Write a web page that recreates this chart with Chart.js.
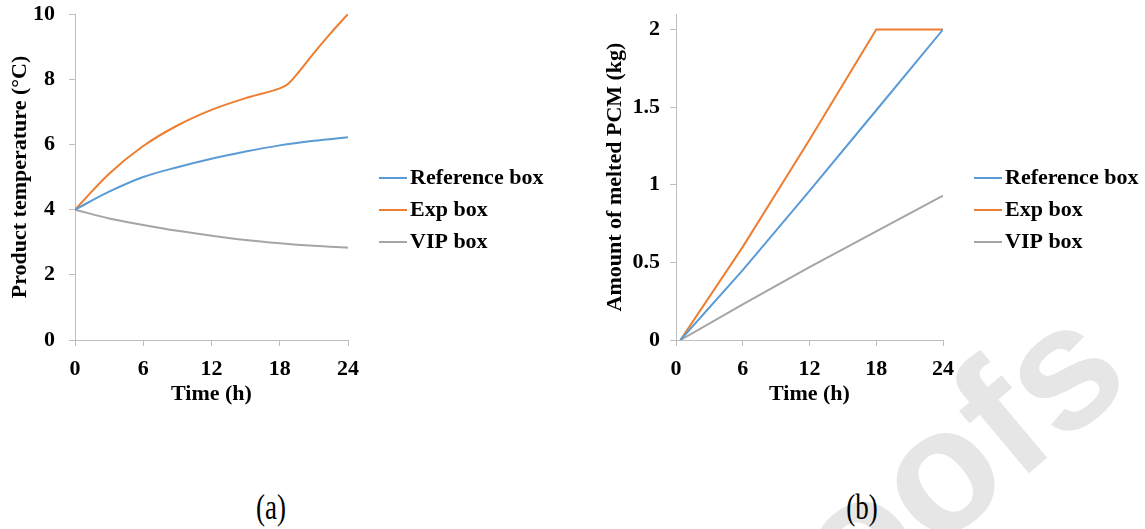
<!DOCTYPE html>
<html>
<head>
<meta charset="utf-8">
<script src="https://cdn.jsdelivr.net/npm/chart.js@4.4.1/dist/chart.umd.min.js"></script>
<style>
    html, body { margin: 0; padding: 0; background: #fff; }
    body { width: 1145px; height: 529px; position: relative; overflow: hidden; }
    .panel { position: absolute; top: 0; }
    .tag { position: absolute; font-family: 'Liberation Serif', serif; font-size: 36px; color: #000; transform: translate(-50%, -50%) scaleX(0.75); }
    .mark { position: absolute; left: 711px; top: 592px; font-family: 'Liberation Sans', sans-serif; font-weight: bold; font-size: 175px; line-height: 1; color: #e6e6e6; white-space: nowrap; transform-origin: 0 148px; transform: rotate(-40deg); }
</style>
</head>
<body>
<div class="mark">Proofs</div>
<div class="panel" style="left:0"><canvas id="chartA" width="560" height="420"></canvas></div>
<div class="panel" style="left:560px"><canvas id="chartB" width="585" height="420"></canvas></div>
<div class="tag" style="left:271px; top:507px">(a)</div>
<div class="tag" style="left:862px; top:507px">(b)</div>
<script>
/* ---------- data ---------- */
const seriesNames = ['Reference box', 'Exp box', 'VIP box'];

// (a) product temperature, °C
const timeA = [0, 3, 6, 9, 12, 15, 18, 21, 24];
const refTempA = [4, 4.55, 5.0, 5.3, 5.56, 5.78, 5.97, 6.11, 6.22];
const vipTempA = [4, 3.73, 3.53, 3.35, 3.2, 3.07, 2.97, 2.89, 2.83];
const timeExpA = [0, 3, 6, 9, 12, 15, 18, 18.6, 19.5, 21, 22.5, 24];
const expTempA = [4, 5.1, 5.95, 6.58, 7.06, 7.42, 7.72, 7.82, 8.15, 8.8, 9.42, 10.0];

// (b) amount of melted PCM, kg
const timeB = [0.4, 6, 12, 18, 24];
const refPcmB = [0, 0.45, 0.96, 1.48, 2.0];
const expPcmB = [0, 0.6, 1.29, 2.0, 2.0];
const vipPcmB = [0, 0.23, 0.47, 0.70, 0.93];

const timeTicks = [0, 6, 12, 18, 24];

/* ---------- styling ---------- */
const COLORS = ['#5b9bd5', '#ed7d31', '#a5a5a5'];
const AXIS = '#bfbfbf';
const boldFont = { family: "'Liberation Serif', 'Times New Roman', serif", weight: 'bold', size: 22 };

const pts = (xs, ys) => xs.map((x, i) => ({ x, y: ys[i] }));

// legend drawn to the right of the plot area
const sideLegend = {
    id: 'sideLegend',
    afterDraw(chart, args, opts) {
        const { ctx, chartArea } = chart;
        ctx.save();
        ctx.font = `bold ${opts.size}px 'Liberation Serif', serif`;
        ctx.textBaseline = 'middle';
        ctx.textAlign = 'left';
        chart.data.datasets.forEach((ds, i) => {
            const y = opts.top + i * opts.rowGap;
            const x = chartArea.right + opts.offset;
            ctx.strokeStyle = ds.borderColor;
            ctx.lineWidth = 2;
            ctx.beginPath(); ctx.moveTo(x, y); ctx.lineTo(x + opts.lineLen, y); ctx.stroke();
            ctx.fillStyle = '#000';
            ctx.fillText(ds.label, x + opts.lineLen + 3, y);
        });
        ctx.restore();
    }
};

function makeDataset(i, data, smooth) {
    return {
        label: seriesNames[i], data,
        borderColor: COLORS[i], backgroundColor: COLORS[i],
        borderWidth: 2, pointRadius: 0,
        cubicInterpolationMode: smooth ? 'monotone' : 'default',
        tension: 0
    };
}

function makeChart(canvasId, datasets, cfg) {
    return new Chart(document.getElementById(canvasId), {
        type: 'line',
        data: { datasets },
        options: {
            responsive: false, animation: false, devicePixelRatio: 1,
            layout: { padding: { left: 0, top: 14, right: cfg.padRight, bottom: 0 } },
            scales: {
                x: {
                    type: 'linear', min: 0, max: 24,
                    afterBuildTicks: s => { s.ticks = timeTicks.map(v => ({ value: v })); },
                    afterFit: s => { s.height = 80; s.paddingLeft = 0; s.paddingRight = 0; },
                    grid: { drawOnChartArea: false, drawTicks: true, tickLength: 6, color: AXIS },
                    border: { color: AXIS, width: 1 },
                    ticks: { font: boldFont, color: '#000', padding: 10, maxRotation: 0 },
                    title: { display: true, text: 'Time (h)', font: boldFont, color: '#000', padding: { top: 0, bottom: 12 } }
                },
                y: {
                    min: 0, max: cfg.yMax,
                    afterBuildTicks: s => { s.ticks = cfg.yTicks.map(v => ({ value: v })); },
                    afterFit: s => { s.width = cfg.yWidth; s.paddingTop = 0; s.paddingBottom = 0; },
                    grid: { drawOnChartArea: false, drawTicks: true, tickLength: 6, color: AXIS },
                    border: { color: AXIS, width: 1 },
                    ticks: { font: boldFont, color: '#000', padding: cfg.yPad, callback: v => String(v) },
                    title: { display: true, text: cfg.yTitle, font: boldFont, color: '#000', padding: { top: cfg.yTitlePad, bottom: 0 } }
                }
            },
            plugins: {
                legend: { display: false },
                tooltip: { enabled: false },
                sideLegend: { top: 178, rowGap: 32, offset: 31, lineLen: 28, size: 22 }
            }
        },
        plugins: [sideLegend]
    });
}

makeChart('chartA', [
    makeDataset(0, pts(timeA, refTempA), true),
    makeDataset(1, pts(timeExpA, expTempA), true),
    makeDataset(2, pts(timeA, vipTempA), true)
], {
    padRight: 212, yWidth: 75, yMax: 10, yTicks: [0, 2, 4, 6, 8, 10], yPad: 14,
    yTitle: 'Product temperature (°C)', yTitlePad: 7
});

makeChart('chartB', [
    makeDataset(0, pts(timeB, refPcmB), false),
    makeDataset(1, pts(timeB, expPcmB), false),
    makeDataset(2, pts(timeB, vipPcmB), false)
], {
    padRight: 202, yWidth: 116, yMax: 2.1, yTicks: [0, 0.5, 1, 1.5, 2], yPad: 10,
    yTitle: 'Amount of melted PCM (kg)', yTitlePad: 42
});
</script>
</body>
</html>
